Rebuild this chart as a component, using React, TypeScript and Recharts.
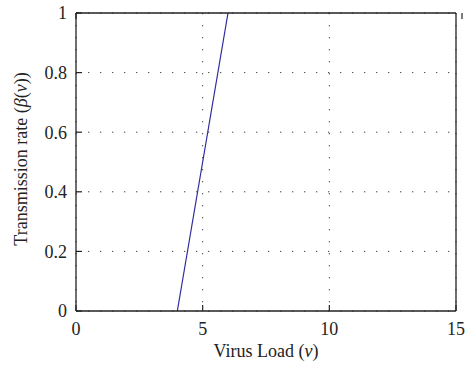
import { CartesianGrid, ComposedChart, Line, XAxis, YAxis } from "recharts"

const virusLoad = [4, 6]
const transmissionRate = [0, 1]
const xTicks = [0, 5, 10, 15]
const yTicks = [0, 0.2, 0.4, 0.6, 0.8, 1]

const data = virusLoad.map((v, i) => ({ v, beta: transmissionRate[i] }))

const FONT = "Liberation Serif"
const INK = "#222"
const TICK_LEN = 6

const bottomTick = (props: any) => {
    const { x, y, payload } = props
    return (
        <g>
            <line x1={x} x2={x} y1={y - 11} y2={y - 11 - TICK_LEN} stroke={INK} strokeWidth={1.2} />
            <text x={x} y={y} dy="0.71em" textAnchor="middle" fontFamily={FONT} fontSize={18} fill={INK}>
                {payload.value}
            </text>
        </g>
    )
}

const leftTick = (props: any) => {
    const { x, y, payload } = props
    return (
        <g>
            <line x1={x + 9} x2={x + 9 + TICK_LEN} y1={y} y2={y} stroke={INK} strokeWidth={1.2} />
            <text x={x} y={y} dy="0.35em" textAnchor="end" fontFamily={FONT} fontSize={18} fill={INK}>
                {String(payload.value)}
            </text>
        </g>
    )
}

const topTick = (props: any) => {
    const { x, y } = props
    return <line x1={x} x2={x} y1={y} y2={y + TICK_LEN} stroke={INK} strokeWidth={1.2} />
}

const rightTick = (props: any) => {
    const { x, y } = props
    return <line x1={x} x2={x - TICK_LEN} y1={y} y2={y} stroke={INK} strokeWidth={1.2} />
}

const xLabel = (props: any) => {
    const { viewBox } = props
    const cx = viewBox.x + viewBox.width / 2
    return (
        <text x={cx} y={viewBox.y + 46} textAnchor="middle" fontFamily={FONT} fontSize={18} fill={INK}>
            Virus Load (<tspan fontStyle="italic">ν</tspan>)
        </text>
    )
}

const yLabel = (props: any) => {
    const { viewBox } = props
    const cy = viewBox.y + viewBox.height / 2 - 3
    return (
        <text
            x={27}
            y={cy}
            transform={`rotate(-90, 27, ${cy})`}
            textAnchor="middle"
            fontFamily={FONT}
            fontSize={18}
            fill={INK}
        >
            Transmission rate (<tspan fontStyle="italic">β</tspan>(<tspan fontStyle="italic">ν</tspan>))
        </text>
    )
}

const App = () => {
    return (
        <div style={{ position: "absolute", left: 0, top: 0, background: "#fff" }}>
            <ComposedChart width={470} height={366} data={data} margin={{ top: 12, right: 13, bottom: 0, left: 0 }}>
                <CartesianGrid stroke="#444" strokeDasharray="1.3 10.7" />
                <XAxis
                    dataKey="v"
                    type="number"
                    domain={[0, 15]}
                    ticks={xTicks}
                    height={55}
                    stroke={INK}
                    strokeWidth={1.3}
                    tickSize={0}
                    tickMargin={11}
                    tickLine={false}
                    tick={bottomTick}
                    label={{ content: xLabel }}
                />
                <XAxis
                    xAxisId="top"
                    orientation="top"
                    type="number"
                    domain={[0, 15]}
                    ticks={xTicks}
                    height={1}
                    stroke={INK}
                    strokeWidth={1.3}
                    tickSize={0}
                    tickMargin={0}
                    tickLine={false}
                    tick={topTick}
                />
                <YAxis
                    type="number"
                    domain={[0, 1]}
                    ticks={yTicks}
                    width={76}
                    stroke={INK}
                    strokeWidth={1.3}
                    tickSize={0}
                    tickMargin={9}
                    tickLine={false}
                    tick={leftTick}
                    label={{ content: yLabel }}
                />
                <YAxis
                    yAxisId="right"
                    orientation="right"
                    type="number"
                    domain={[0, 1]}
                    ticks={yTicks}
                    width={1}
                    stroke={INK}
                    strokeWidth={1.3}
                    tickSize={0}
                    tickMargin={0}
                    tickLine={false}
                    tick={rightTick}
                />
                <Line
                    dataKey="beta"
                    type="linear"
                    stroke="#2f2b9c"
                    strokeWidth={1.2}
                    dot={false}
                    isAnimationActive={false}
                />
            </ComposedChart>
        </div>
    )
}

export default App
